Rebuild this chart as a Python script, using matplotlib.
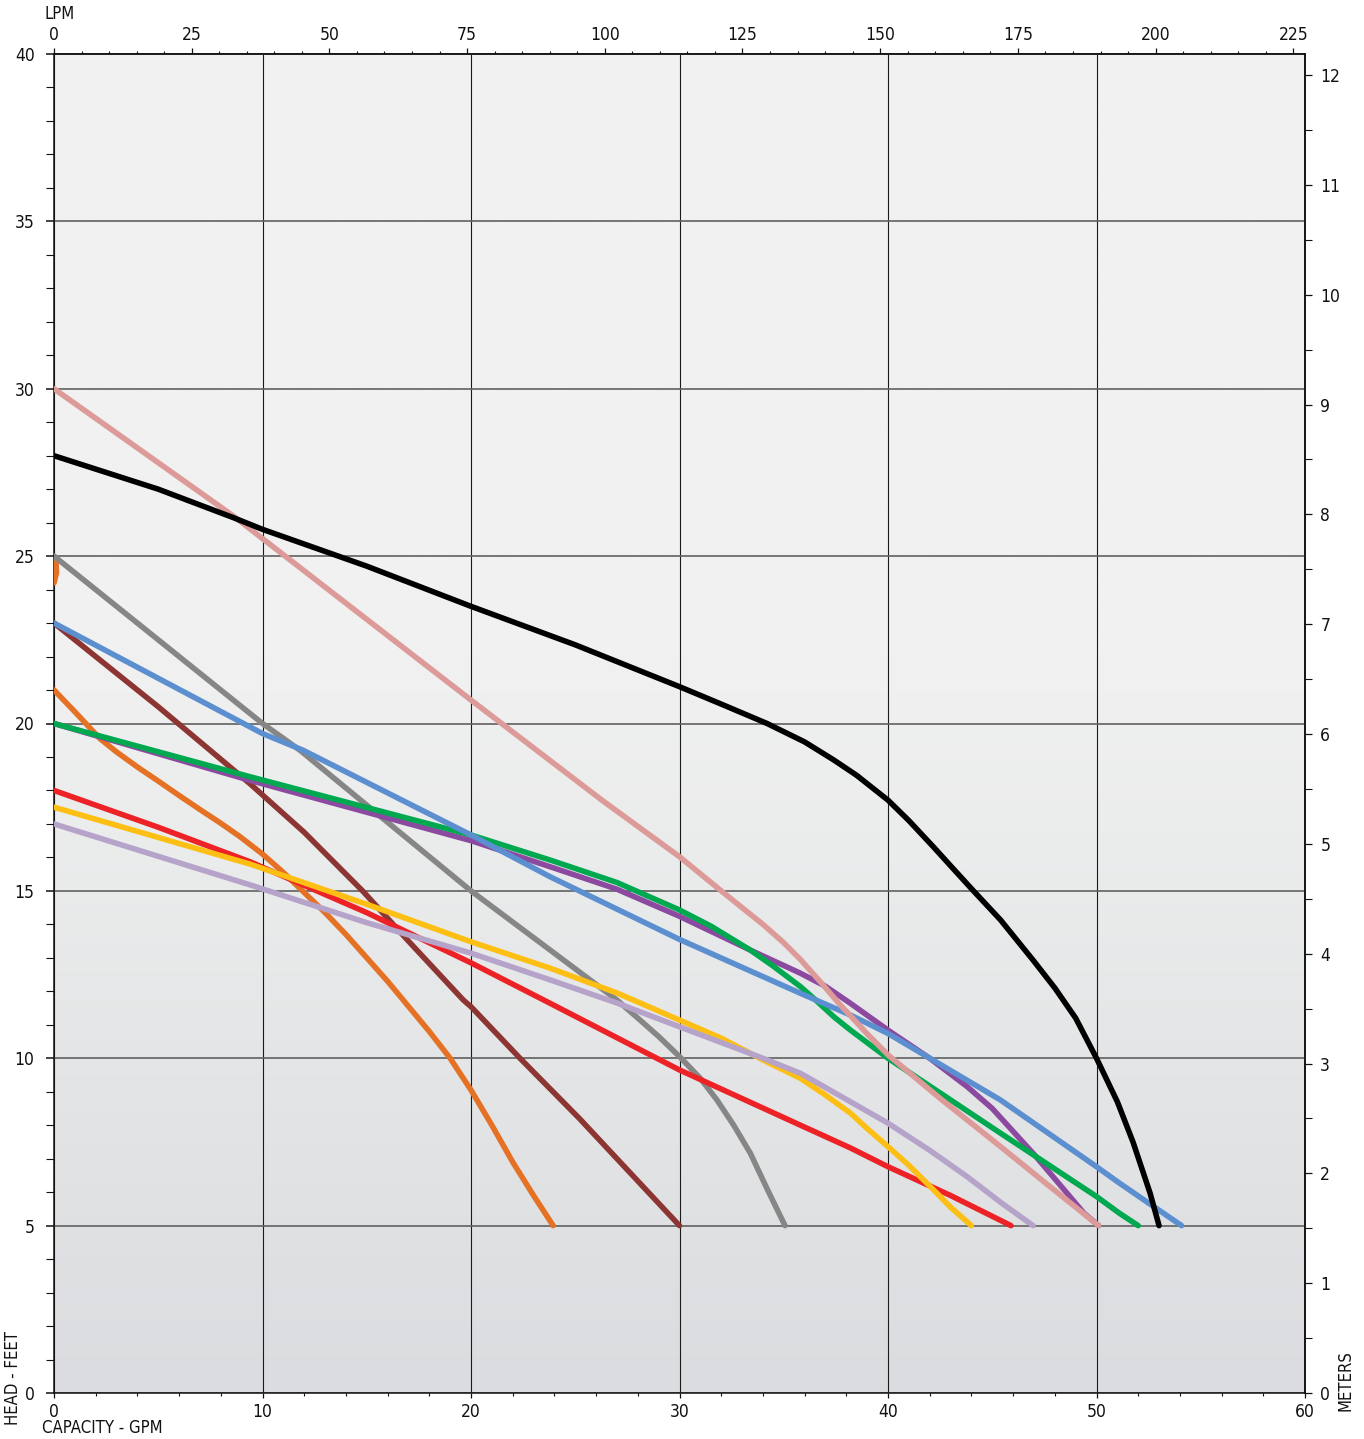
import numpy as np
import matplotlib
matplotlib.use("Agg")
import matplotlib.pyplot as plt
from matplotlib.ticker import MultipleLocator
from matplotlib import font_manager

# ---------------- data (GPM, feet) ----------------
black_x = [0, 5, 8.6, 10, 15, 20, 25, 28, 30, 32, 34.2, 36, 37.4, 38.5, 40, 41, 42.2, 43, 44.1, 45.4, 46.96, 48, 49, 50, 51, 51.75, 52.57, 53.0]
black_y = [28, 27.0, 26.15, 25.8, 24.7, 23.5, 22.35, 21.6, 21.1, 20.58, 20.0, 19.45, 18.91, 18.45, 17.71, 17.1, 16.3, 15.75, 15.0, 14.13, 12.93, 12.1, 11.2, 10.0, 8.7, 7.5, 5.97, 5.0]

pink_x = [0, 8.6, 20, 26.3, 30, 32, 34, 35, 35.8, 36.8, 37.7, 38.2, 39, 40, 42.5, 45.4, 47.5, 50.1]
pink_y = [30, 26.2, 20.7, 17.7, 16.02, 15.0, 14.0, 13.45, 12.95, 12.25, 11.6, 11.27, 10.73, 10.1, 8.8, 7.36, 6.3, 5.0]

gray_x = [0, 10, 11.8, 20, 23.8, 27, 28, 29, 30, 31, 31.8, 32.6, 33.4, 34.2, 35.06]
gray_y = [25, 20, 19.2, 15, 13.23, 11.74, 11.2, 10.65, 10.05, 9.4, 8.75, 8.0, 7.16, 6.1, 5.0]

blue_x = [0, 10, 11.95, 20, 23.8, 30, 35.8, 38.2, 40, 45.4, 50, 51.1, 54.08]
blue_y = [23, 19.7, 19.2, 16.67, 15.42, 13.55, 11.94, 11.29, 10.74, 8.75, 6.76, 6.27, 5.0]

brown_x = [0, 5, 9.4, 12, 14.8, 17, 19.63, 20, 22.35, 25.2, 30]
brown_y = [23, 20.5, 18.2, 16.75, 15.0, 13.5, 11.74, 11.54, 10.0, 8.2, 5.0]

green_x = [0, 9.4, 20, 23.8, 27, 30, 31.5, 33.4, 34.5, 35.8, 36.6, 37.4, 38.2, 40, 45.4, 50, 51.1, 52.0]
green_y = [20, 18.41, 16.67, 15.92, 15.25, 14.43, 13.95, 13.23, 12.75, 12.14, 11.7, 11.24, 10.84, 10.0, 7.76, 5.87, 5.37, 5.0]

purple_x = [0, 9.4, 20, 23.8, 27, 30, 33.4, 35.8, 37, 38.2, 40, 42, 43.8, 45, 46.96, 48, 49.4, 50.1]
purple_y = [20, 18.3, 16.5, 15.72, 15.05, 14.24, 13.23, 12.54, 12.15, 11.64, 10.84, 10.0, 9.15, 8.5, 7.16, 6.4, 5.37, 5.0]

orange_x = [0, 1, 2.2, 3, 4, 5, 6, 7, 8, 8.92, 10, 11, 12, 13, 14, 15, 16, 17, 18, 19, 20, 21, 22, 23, 23.94]
orange_y = [21, 20.35, 19.55, 19.15, 18.7, 18.28, 17.85, 17.43, 17.02, 16.62, 16.1, 15.55, 14.95, 14.35, 13.7, 13.0, 12.3, 11.55, 10.8, 10.0, 9.05, 8.0, 6.9, 5.9, 5.0]

orange_stub_x = [0, 0.12, 0.1, 0]
orange_stub_y = [24.2, 24.5, 24.8, 25.0]

red_x = [0, 5, 9.4, 15, 20, 23.8, 30, 35.8, 38.2, 40, 43, 45.9]
red_y = [18, 16.9, 15.87, 14.35, 12.85, 11.64, 9.65, 8.0, 7.32, 6.76, 5.9, 5.0]

yellow_x = [0, 9.4, 15, 20, 23.8, 27, 30, 32, 34, 35.8, 37, 38.2, 39, 40, 41, 42.2, 43, 44.0]
yellow_y = [17.5, 15.8, 14.6, 13.48, 12.69, 11.95, 11.14, 10.6, 9.95, 9.4, 8.9, 8.36, 7.9, 7.36, 6.8, 6.06, 5.55, 5.0]

lavender_x = [0, 9.4, 15, 20, 23.8, 27, 30, 34, 35.8, 38.2, 40, 42, 43.8, 45.5, 46.96]
lavender_y = [17, 15.18, 14.05, 13.14, 12.34, 11.65, 10.94, 10.0, 9.55, 8.70, 8.06, 7.25, 6.46, 5.65, 5.0]

gpm_ticks = [0, 10, 20, 30, 40, 50, 60]
feet_ticks = [0, 5, 10, 15, 20, 25, 30, 35, 40]
lpm_ticks = [0, 25, 50, 75, 100, 125, 150, 175, 200, 225]
meter_ticks = [0, 1, 2, 3, 4, 5, 6, 7, 8, 9, 10, 11, 12]

series = [
    (orange_stub_x, orange_stub_y, '#e57125'),
    (orange_x, orange_y, '#e57125'),
    (brown_x, brown_y, '#8c3533'),
    (gray_x, gray_y, '#868686'),
    (red_x, red_y, '#ec2227'),
    (yellow_x, yellow_y, '#fdbf13'),
    (lavender_x, lavender_y, '#b5a3c9'),
    (purple_x, purple_y, '#8b4a9f'),
    (green_x, green_y, '#00a84f'),
    (blue_x, blue_y, '#5b8fcf'),
    (pink_x, pink_y, '#dc9a98'),
    (black_x, black_y, '#000000'),
]

# ---------------- font: pick a condensed face if available ----------------
def pick_font():
    fl = font_manager.fontManager.ttflist
    def ok(f):
        return f.style == 'normal' and f.weight in (400, 'normal', 'regular')
    for f in fl:
        if f.name == 'Liberation Sans Narrow' and ok(f):
            return f.name, f.stretch, 12.5
    for want in ('condensed', 'semi-condensed'):
        for fam in ('Noto Sans', 'Open Sans', 'Roboto', 'DejaVu Sans'):
            for f in fl:
                if f.name == fam and f.stretch == want and ok(f):
                    return f.name, f.stretch, 12.5
    for f in fl:
        if ('Condensed' in f.name or 'Narrow' in f.name) and ok(f):
            return f.name, f.stretch, 12.5
    return 'Liberation Sans', 'normal', 11.5

FAM, STRETCH, FS = pick_font()
plt.rcParams['font.family'] = [FAM, 'DejaVu Sans']
plt.rcParams['font.stretch'] = STRETCH

# ---------------- figure ----------------
W, H = 1364, 1439
fig = plt.figure(figsize=(W / 100, H / 100), dpi=100)
L, R, T, B = 54, 1305, 54, 1393
ax = fig.add_axes([L / W, (H - B) / H, (R - L) / W, (B - T) / H])

# background gradient
n = 400
frac = np.linspace(0, 1, n)  # 0 = top, 1 = bottom
top_c = np.array([240, 241, 240]) / 255
bot_c = np.array([219, 220, 223]) / 255
t = np.clip((frac - 0.45) / 0.55, 0, 1)
grad = top_c[None, :] * (1 - t[:, None]) + bot_c[None, :] * t[:, None]
ax.imshow(grad[:, None, :], extent=[0, 60, 0, 40], aspect='auto', zorder=0,
          interpolation='bilinear', origin='upper')

ax.set_xlim(0, 60)
ax.set_ylim(0, 40)

for xs, ys, c in series:
    ax.plot(xs, ys, color=c, lw=4.0, solid_capstyle='round', solid_joinstyle='round', zorder=3)

# grid
ax.set_xticks(gpm_ticks)
ax.set_yticks(feet_ticks)
ax.xaxis.set_minor_locator(MultipleLocator(2))
ax.yaxis.set_minor_locator(MultipleLocator(1))
ax.xaxis.grid(True, which='major', color='#1a1a1a', lw=0.8, zorder=1)
ax.yaxis.grid(True, which='major', color='#606060', lw=1.2, zorder=1)
ax.set_axisbelow(True)

for s in ax.spines.values():
    s.set_linewidth(1.1)
    s.set_color('#111111')

ax.tick_params(axis='y', which='major', direction='out', length=6, width=1.1,
               labelsize=FS, pad=8, colors='#111111')
ax.tick_params(axis='y', which='minor', direction='out', length=6, width=0.8, colors='#111111')
ax.tick_params(axis='x', which='major', direction='out', length=3.5, width=0.9,
               labelsize=FS, pad=4, colors='#111111')
ax.tick_params(axis='x', which='minor', direction='out', length=2.5, width=0.8, colors='#111111')

# top LPM axis
GPM2LPM = 3.78541
top = ax.secondary_xaxis('top', functions=(lambda g: g * GPM2LPM, lambda l: l / GPM2LPM))
top.set_xticks(lpm_ticks)
top.xaxis.set_minor_locator(MultipleLocator(5))
top.tick_params(axis='x', which='major', direction='out', length=4.5, width=0.9,
                labelsize=FS, pad=3, colors='#111111')
top.tick_params(axis='x', which='minor', direction='out', length=2.5, width=0.8, colors='#111111')
top.spines['top'].set_linewidth(1.1)

# right meters axis
FT2M = 0.3048
right = ax.secondary_yaxis('right', functions=(lambda f: f * FT2M, lambda m: m / FT2M))
right.set_yticks(meter_ticks)
right.yaxis.set_minor_locator(MultipleLocator(0.5))
right.tick_params(axis='y', which='major', direction='out', length=5, width=0.9,
                  labelsize=FS, pad=6, colors='#111111')
right.tick_params(axis='y', which='minor', direction='out', length=5, width=0.8, colors='#111111')
right.spines['right'].set_linewidth(1.1)

# axis titles
fig.text(45 / W, 1 - 14 / H, 'LPM', fontsize=FS - 0.5, ha='left', va='center', color='#111111')
fig.text(42 / W, 1 - 1428 / H, 'CAPACITY - GPM', fontsize=FS - 0.5, ha='left', va='center', color='#111111')
fig.text(13 / W, 1 - 1425 / H, 'HEAD - FEET', fontsize=FS - 0.5, ha='center', va='bottom',
         rotation=90, color='#111111')
fig.text(1345 / W, 1 - 1411 / H, 'METERS', fontsize=FS - 0.5, ha='center', va='bottom',
         rotation=90, color='#111111')

fig.savefig('out.png', dpi=100)
